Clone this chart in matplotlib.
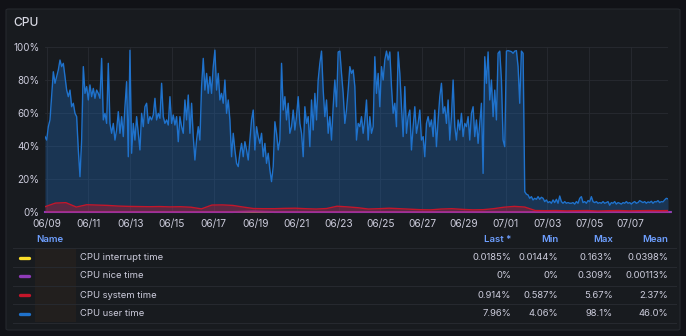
import matplotlib
matplotlib.use("Agg")
import matplotlib.pyplot as plt
import matplotlib.dates as mdates
import pandas as pd
from matplotlib.patches import FancyBboxPatch, Rectangle
from matplotlib.lines import Line2D
from matplotlib.ticker import FuncFormatter, MultipleLocator

plt.rcParams["font.family"] = ["Inter", "DejaVu Sans"]

# ── Data ──────────────────────────────────────────────────────────────────────
USER_START = "2024-06-08 22:00"
USER_STEP = "115min"
user_time = [
    45.7, 43.6, 51.7, 55.8, 70.0, 85.0, 78.0, 82.0, 86.1, 92.1, 88.1, 90.1, 82.0, 73.9, 69.9, 73.9,
    63.8, 65.9, 59.8, 57.8, 37.6, 21.4, 43.6, 88.1, 71.9, 76.0, 67.9, 77.0, 69.9, 74.9, 68.9, 73.9,
    71.9, 68.9, 93.1, 55.8, 59.8, 53.7, 90.1, 53.7, 47.7, 53.7, 43.6, 49.7, 60.8, 47.7, 57.8, 45.7,
    63.8, 79.0, 33.5, 98.0, 35.6, 53.7, 43.6, 57.8, 47.7, 37.6, 59.8, 51.7, 63.8, 65.9, 53.7, 57.8,
    55.8, 58.8, 68.9, 55.8, 59.8, 56.8, 78.0, 57.8, 53.7, 55.8, 52.7, 69.9, 53.7, 58.8, 52.7, 57.8,
    42.6, 57.8, 51.7, 47.7, 67.9, 55.8, 70.9, 47.7, 65.9, 45.7, 31.5, 43.6, 51.7, 43.6, 76.0, 93.1,
    73.9, 84.0, 71.9, 82.0, 71.9, 88.1, 98.1, 73.9, 84.0, 67.9, 71.9, 65.9, 80.0, 59.8, 67.9, 55.8,
    33.5, 47.7, 37.6, 29.5, 27.5, 35.6, 41.6, 33.5, 42.6, 37.6, 31.5, 43.6, 55.8, 61.8, 37.6,
    51.7, 45.7, 41.6, 47.7, 33.5, 41.6, 29.5, 35.6, 25.5, 18.4, 27.5, 54.7, 47.7, 37.6, 43.6, 90.1,
    61.8, 69.9, 55.8, 65.9, 47.7, 51.7, 61.8, 49.7, 57.8, 69.9, 53.7, 47.7, 33.5, 63.8, 53.7, 57.8,
    39.6, 67.9, 49.7, 71.9, 55.8, 80.0, 90.1, 97.5, 73.9, 57.8, 67.9, 47.7, 57.8, 43.6, 63.8, 80.0,
    63.8, 97.0, 97.5, 84.0, 71.9, 53.7, 61.8, 73.9, 88.1, 84.0, 86.1, 76.0, 43.6, 53.7, 51.7,
    57.8, 47.7, 55.8, 67.9, 43.6, 57.8, 47.7, 51.7, 94.1, 71.9, 84.0, 63.8, 88.1, 80.0, 92.1, 97.5,
    92.1, 97.0, 76.0, 59.8, 65.9, 51.7, 97.0, 84.0, 63.8, 45.7, 76.0, 47.7, 57.8, 61.8, 37.6, 51.7,
    63.8, 47.7, 53.7, 61.8, 43.6, 45.7, 33.5, 53.7, 57.8, 51.7, 55.8, 45.7, 61.8, 39.6, 55.8, 69.9,
    78.0, 59.8, 63.8, 53.7, 67.9, 43.6, 57.8, 80.0, 51.7, 43.6, 55.8, 49.7, 59.8, 45.7, 53.7,
    51.7, 57.8, 43.6, 59.8, 63.8, 45.7, 55.8, 41.6, 53.7, 65.9, 23.4, 94.1, 78.0, 97.0, 67.9, 80.0,
    57.8, 73.9, 55.8, 96.2, 97.5, 80.0, 43.6, 39.6, 97.5, 97.8, 97.5, 97.2, 96.2, 97.5, 97.8, 88.1,
    65.9, 97.5, 96.2, 12.3, 10.8, 10.3, 8.3, 9.3, 7.3, 8.3, 7.7, 9.3, 7.7, 8.9, 8.3, 6.3,
    7.3, 5.7, 6.3, 5.3, 7.3, 5.7, 7.7, 5.3, 9.7, 6.3, 5.3, 6.3, 5.3, 5.7, 5.3,
    5.3, 5.7, 4.8, 6.3, 5.3, 8.3, 9.3, 5.7, 6.3, 5.3, 6.9, 6.3, 9.3, 6.3, 5.7, 6.3,
    5.3, 5.7, 5.3, 6.3, 5.3, 5.7, 6.3, 4.1, 5.7, 5.3, 6.3, 4.8, 5.7, 5.3, 4.8, 5.7,
    5.3, 6.3, 5.3, 5.7, 4.8, 5.7, 6.3, 5.3, 5.7, 6.9, 6.3, 5.7, 6.3, 5.3, 6.1, 5.7,
    6.5, 5.3, 6.3, 6.1, 6.9, 5.7, 6.3, 6.1, 7.3, 8.3, 7.96,
]

SYSTEM_START = "2024-06-08 22:00"
SYSTEM_STEP = "12h"
system_time = [
    3.2, 5.4, 5.67, 3.0, 4.4, 4.2, 4.0, 3.6, 3.4, 3.3, 3.2, 3.3, 3.1, 3.2, 2.9, 1.9,
    4.2, 4.3, 4.0, 3.0, 2.1, 2.0, 2.0, 2.2, 2.3, 2.0, 1.8, 2.1, 3.5, 3.1, 2.6, 1.8,
    2.0, 2.3, 2.0, 1.7, 1.4, 1.3, 1.8, 2.0, 1.6, 1.3, 1.4, 2.0, 2.9, 3.4, 3.0, 0.9,
    0.8, 0.9, 0.7, 0.8, 0.9, 0.6, 0.8, 0.9, 0.7, 0.8, 0.9, 0.8, 0.914,
]

SMALL_START = "2024-06-08 22:00"
SMALL_STEP = "1D"
interrupt_time = [0.04, 0.05, 0.04, 0.03, 0.05, 0.04, 0.163, 0.04, 0.03, 0.04, 0.05, 0.04, 0.03, 0.04,
                  0.04, 0.05, 0.04, 0.03, 0.04, 0.05, 0.04, 0.04, 0.05, 0.03, 0.02, 0.02, 0.03, 0.02,
                  0.02, 0.02, 0.0185]
nice_time = [0, 0, 0, 0, 0, 0, 0, 0, 0, 0, 0.309, 0, 0, 0, 0, 0, 0, 0, 0, 0, 0, 0, 0, 0, 0, 0, 0, 0,
             0, 0, 0]

series_names = ["CPU interrupt time", "CPU nice time", "CPU system time", "CPU user time"]
stat_headers = ["Last *", "Min", "Max", "Mean"]
stat_last = ["0.0185%", "0%", "0.914%", "7.96%"]
stat_min = ["0.0144%", "0%", "0.587%", "4.06%"]
stat_max = ["0.163%", "0.309%", "5.67%", "98.1%"]
stat_mean = ["0.0398%", "0.00113%", "2.37%", "46.0%"]

# ── Style ─────────────────────────────────────────────────────────────────────
BG_PAGE = "#111217"
BG_PANEL = "#181b1f"
BORDER = "#25282e"
GRID = "#282b31"
TEXT = "#ccccdc"
HEADER = "#6e9fff"
C_INTERRUPT = "#fade2a"
C_NICE = "#8f3bb8"
C_SYSTEM = "#c4162a"
C_USER = "#1f72cc"
series_colors = [C_INTERRUPT, C_NICE, C_SYSTEM, C_USER]

W, H = 686, 336


def fx(x):
    return x / W


def fy(y):
    return 1 - y / H


fig = plt.figure(figsize=(W / 100, H / 100), dpi=100)
fig.patch.set_facecolor(BG_PAGE)

panel = FancyBboxPatch((fx(6), fy(330)), fx(674), (330 - 9) / H,
                       boxstyle="round,pad=0,rounding_size=0.004",
                       transform=fig.transFigure, facecolor=BG_PANEL,
                       edgecolor=BORDER, linewidth=0.8, zorder=-10)
fig.patches.append(panel)

fig.text(fx(13), fy(23), "CPU", color="#d8d9e3", fontsize=8.6, fontweight="medium",
         ha="left", va="center")

# ── Time series ──
ax = fig.add_axes([fx(45), fy(212), fx(668) - fx(45), (212 - 47) / H])
ax.set_facecolor("none")
ax.set_zorder(1)

t_user = pd.date_range(USER_START, periods=len(user_time), freq=USER_STEP)
t_sys = pd.date_range(SYSTEM_START, periods=len(system_time), freq=SYSTEM_STEP)
t_small = pd.date_range(SMALL_START, periods=len(interrupt_time), freq=SMALL_STEP)

ax.fill_between(t_user, user_time, color=C_USER, alpha=0.3, linewidth=0, zorder=2)
ax.plot(t_user, user_time, color=C_USER, linewidth=1.0, zorder=3)
ax.plot(t_small, interrupt_time, color=C_INTERRUPT, linewidth=1.0, zorder=3, clip_on=False)
ax.plot(t_small, nice_time, color=C_NICE, linewidth=1.5, zorder=4, clip_on=False)
ax.fill_between(t_sys, system_time, color=C_SYSTEM, alpha=0.38, linewidth=0, zorder=4)
ax.plot(t_sys, system_time, color=C_SYSTEM, linewidth=1.0, zorder=5)

ax.set_xlim(t_user[0], t_user[-1])
ax.set_ylim(0, 100)
ax.yaxis.set_major_locator(MultipleLocator(20))
ax.yaxis.set_major_formatter(FuncFormatter(lambda v, _: f"{v:.0f}%"))
ax.xaxis.set_major_locator(mdates.DayLocator(bymonthday=range(1, 32, 2)))
ax.xaxis.set_major_formatter(mdates.DateFormatter("%m/%d"))
ax.tick_params(length=0, colors=TEXT)
ax.tick_params(axis="y", pad=4, labelsize=7.1)
ax.tick_params(axis="x", pad=5, labelsize=7.3)
for spine in ax.spines.values():
    spine.set_visible(False)
ax.grid(True, color=GRID, linewidth=0.6, zorder=0)
ax.set_axisbelow(True)

# ── Legend table ──
stat_x = [511, 558, 613, 668]
fig.text(fx(36), fy(239), "Name", color=HEADER, fontsize=6.9, fontweight="semibold",
         ha="left", va="center")
for hx, label in zip(stat_x, stat_headers):
    fig.text(fx(hx), fy(239), label, color=HEADER, fontsize=6.9, fontweight="semibold",
             ha="right", va="center")

row_y = [257.5, 276, 295, 313.5]
for sep in [248.3, 266.8, 285.6, 304.2, 322.7]:
    fig.add_artist(Line2D([fx(13), fx(676)], [fy(sep), fy(sep)], transform=fig.transFigure,
                          color="#26292f", linewidth=0.8))
fig.add_artist(Rectangle((fx(35), fy(322)), fx(76) - fx(35), (322 - 249) / H,
                         transform=fig.transFigure, facecolor="#221f1e", edgecolor="none"))

for i, name in enumerate(series_names):
    y = row_y[i]
    fig.add_artist(Line2D([fx(20), fx(28.5)], [fy(y), fy(y)], transform=fig.transFigure,
                          color=series_colors[i], linewidth=2.4, solid_capstyle="round"))
    fig.text(fx(80), fy(y), name, color=TEXT, fontsize=6.8, ha="left", va="center")
    for hx, col in zip(stat_x, [stat_last, stat_min, stat_max, stat_mean]):
        fig.text(fx(hx), fy(y), col[i], color=TEXT, fontsize=6.8, ha="right", va="center")

fig.savefig("out.png", dpi=100, facecolor=fig.get_facecolor())
